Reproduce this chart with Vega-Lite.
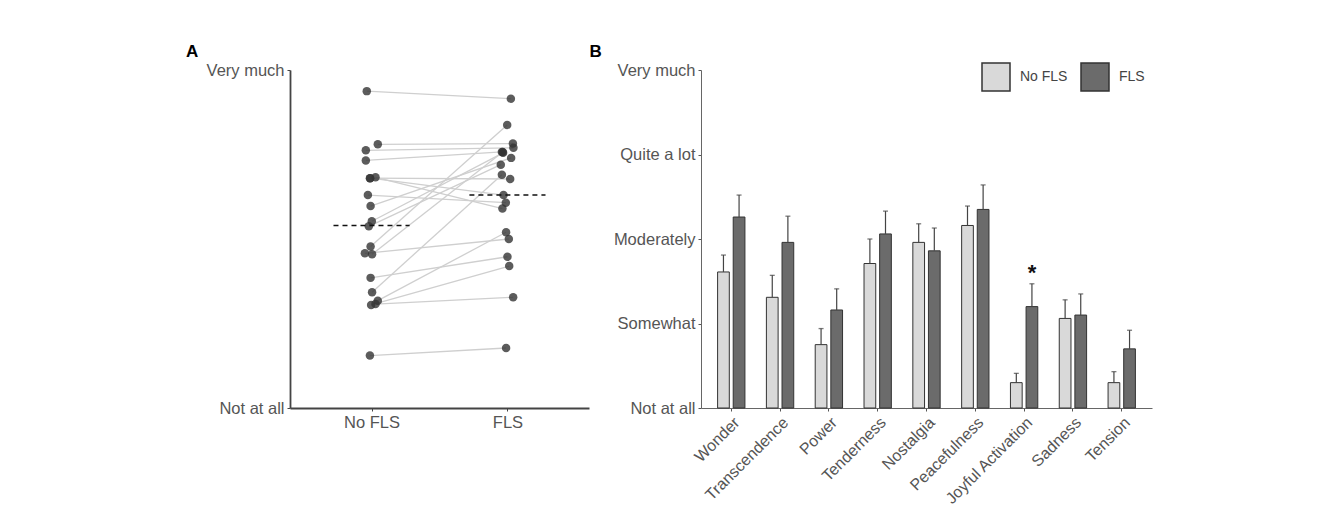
{
  "$schema": "https://vega.github.io/schema/vega-lite/v6.json",
  "padding": {"left": 186, "top": 43, "right": 5, "bottom": 5},
  "background": "white",
  "config": {
    "view": {"stroke": null},
    "font": "Liberation Sans",
    "axis": {"grid": false, "labelColor": "#555", "labelFontSize": 16.5, "tickColor": "#555", "domainColor": "#555", "title": null, "tickSize": 3, "labelPadding": 3}
  },
  "datasets": {
    "pairs": [
      {"id": 1, "cond": "No FLS", "x": 0.965, "y": 4.75}, {"id": 1, "cond": "FLS", "x": 2.025, "y": 4.66},
      {"id": 2, "cond": "No FLS", "x": 1.046, "y": 4.12}, {"id": 2, "cond": "FLS", "x": 2.04, "y": 4.13},
      {"id": 3, "cond": "No FLS", "x": 0.958, "y": 4.05}, {"id": 3, "cond": "FLS", "x": 2.044, "y": 4.08},
      {"id": 4, "cond": "No FLS", "x": 0.958, "y": 3.93}, {"id": 4, "cond": "FLS", "x": 1.959, "y": 4.03},
      {"id": 5, "cond": "No FLS", "x": 0.988, "y": 3.72}, {"id": 5, "cond": "FLS", "x": 2.02, "y": 3.71},
      {"id": 6, "cond": "No FLS", "x": 1.029, "y": 3.73}, {"id": 6, "cond": "FLS", "x": 1.963, "y": 3.36},
      {"id": 7, "cond": "No FLS", "x": 0.99, "y": 3.72}, {"id": 7, "cond": "FLS", "x": 1.971, "y": 3.52},
      {"id": 8, "cond": "No FLS", "x": 0.973, "y": 3.52}, {"id": 8, "cond": "FLS", "x": 1.988, "y": 3.43},
      {"id": 9, "cond": "No FLS", "x": 0.993, "y": 3.39}, {"id": 9, "cond": "FLS", "x": 2.027, "y": 3.96},
      {"id": 10, "cond": "No FLS", "x": 1.002, "y": 3.21}, {"id": 10, "cond": "FLS", "x": 1.968, "y": 4.02},
      {"id": 11, "cond": "No FLS", "x": 0.98, "y": 3.15}, {"id": 11, "cond": "FLS", "x": 1.951, "y": 3.88},
      {"id": 12, "cond": "No FLS", "x": 0.993, "y": 2.91}, {"id": 12, "cond": "FLS", "x": 1.998, "y": 4.35},
      {"id": 13, "cond": "No FLS", "x": 0.951, "y": 2.83}, {"id": 13, "cond": "FLS", "x": 2.01, "y": 3.0},
      {"id": 14, "cond": "No FLS", "x": 1.004, "y": 2.82}, {"id": 14, "cond": "FLS", "x": 1.965, "y": 4.03},
      {"id": 15, "cond": "No FLS", "x": 0.993, "y": 2.54}, {"id": 15, "cond": "FLS", "x": 2.0, "y": 2.79},
      {"id": 16, "cond": "No FLS", "x": 1.004, "y": 2.37}, {"id": 16, "cond": "FLS", "x": 1.959, "y": 3.76},
      {"id": 17, "cond": "No FLS", "x": 1.046, "y": 2.27}, {"id": 17, "cond": "FLS", "x": 1.99, "y": 3.08},
      {"id": 18, "cond": "No FLS", "x": 0.997, "y": 2.22}, {"id": 18, "cond": "FLS", "x": 2.013, "y": 2.68},
      {"id": 19, "cond": "No FLS", "x": 1.029, "y": 2.23}, {"id": 19, "cond": "FLS", "x": 2.042, "y": 2.31},
      {"id": 20, "cond": "No FLS", "x": 0.988, "y": 1.62}, {"id": 20, "cond": "FLS", "x": 1.99, "y": 1.71}
    ],
    "means": [
      {"cond": "No FLS", "x": 0.72, "x2": 1.28, "y": 3.16},
      {"cond": "FLS", "x": 1.72, "x2": 2.28, "y": 3.52}
    ],
    "bars": [
      {"emotion": "Wonder", "group": "No FLS", "mean": 2.61, "upper": 2.81},
      {"emotion": "Wonder", "group": "FLS", "mean": 3.26, "upper": 3.52},
      {"emotion": "Transcendence", "group": "No FLS", "mean": 2.31, "upper": 2.57},
      {"emotion": "Transcendence", "group": "FLS", "mean": 2.96, "upper": 3.27},
      {"emotion": "Power", "group": "No FLS", "mean": 1.75, "upper": 1.94},
      {"emotion": "Power", "group": "FLS", "mean": 2.16, "upper": 2.41},
      {"emotion": "Tenderness", "group": "No FLS", "mean": 2.71, "upper": 3.0},
      {"emotion": "Tenderness", "group": "FLS", "mean": 3.06, "upper": 3.33},
      {"emotion": "Nostalgia", "group": "No FLS", "mean": 2.96, "upper": 3.18},
      {"emotion": "Nostalgia", "group": "FLS", "mean": 2.86, "upper": 3.13},
      {"emotion": "Peacefulness", "group": "No FLS", "mean": 3.16, "upper": 3.39},
      {"emotion": "Peacefulness", "group": "FLS", "mean": 3.35, "upper": 3.64},
      {"emotion": "Joyful Activation", "group": "No FLS", "mean": 1.3, "upper": 1.41},
      {"emotion": "Joyful Activation", "group": "FLS", "mean": 2.2, "upper": 2.47},
      {"emotion": "Sadness", "group": "No FLS", "mean": 2.06, "upper": 2.28},
      {"emotion": "Sadness", "group": "FLS", "mean": 2.1, "upper": 2.35},
      {"emotion": "Tension", "group": "No FLS", "mean": 1.3, "upper": 1.43},
      {"emotion": "Tension", "group": "FLS", "mean": 1.7, "upper": 1.92}
    ],
    "stars": [
      {"emotion": "Joyful Activation", "group": "FLS", "y": 2.52, "label": "*"}
    ]
  },
  "spacing": 0,
  "hconcat": [
    {
      "width": 299,
      "height": 338,
      "title": {"text": "A", "anchor": "start", "frame": "bounds", "fontSize": 17, "fontWeight": "bold", "color": "black", "dx": -20, "offset": 1},
      "layer": [
        {
          "data": {"name": "pairs"},
          "mark": {"type": "line", "color": "#cfcfcf", "strokeWidth": 1.3},
          "encoding": {
            "x": {"field": "x", "type": "quantitative", "scale": {"domain": [0.4, 2.6], "nice": false, "zero": false},
              "axis": {"values": [1, 2], "labelExpr": "datum.value == 1 ? 'No FLS' : 'FLS'", "domainColor": "#444", "domainWidth": 1.8, "tickColor": "#444"}},
            "y": {"field": "y", "type": "quantitative", "scale": {"domain": [1, 5], "nice": false, "zero": false},
              "axis": {"values": [1, 5], "labelExpr": "datum.value == 1 ? 'Not at all' : 'Very much'", "domainColor": "#444", "domainWidth": 1.8, "tickColor": "#444"}},
            "detail": {"field": "id", "type": "nominal"}
          }
        },
        {
          "data": {"name": "pairs"},
          "mark": {"type": "circle", "size": 72, "color": "#333", "opacity": 0.8},
          "encoding": {
            "x": {"field": "x", "type": "quantitative"},
            "y": {"field": "y", "type": "quantitative"}
          }
        },
        {
          "data": {"name": "means"},
          "mark": {"type": "rule", "color": "#111", "strokeWidth": 1.5, "strokeDash": [5, 4]},
          "encoding": {
            "x": {"field": "x", "type": "quantitative"},
            "x2": {"field": "x2"},
            "y": {"field": "y", "type": "quantitative"}
          }
        }
      ]
    },
    {
      "width": 451,
      "height": 338,
      "title": {"text": "B", "anchor": "start", "frame": "bounds", "fontSize": 17, "fontWeight": "bold", "color": "black", "dx": -24, "offset": 1},
      "data": {"name": "bars"},
      "layer": [
        {
          "mark": {"type": "bar", "stroke": "#333", "strokeWidth": 1},
          "encoding": {
            "x": {"field": "emotion", "type": "nominal", "sort": ["Wonder", "Transcendence", "Power", "Tenderness", "Nostalgia", "Peacefulness", "Joyful Activation", "Sadness", "Tension"],
              "scale": {"paddingInner": 0.44, "paddingOuter": 0.34},
              "axis": {"labelAngle": -45, "labelAlign": "right", "labelBaseline": "top", "labelFontSize": 16, "domainColor": "#666"}},
            "xOffset": {"field": "group", "type": "nominal", "sort": ["No FLS", "FLS"], "scale": {"paddingInner": 0.25, "paddingOuter": 0}},
            "y": {"field": "mean", "type": "quantitative", "scale": {"domain": [1, 5], "nice": false, "zero": false},
              "axis": {"values": [1, 2, 3, 4, 5], "labelExpr": "['', 'Not at all', 'Somewhat', 'Moderately', 'Quite a lot', 'Very much'][datum.value]", "domainColor": "#666"}},
            "y2": {"datum": 1},
            "color": {"field": "group", "type": "nominal", "scale": {"domain": ["No FLS", "FLS"], "range": ["#d9d9d9", "#6b6b6b"]},
              "legend": {"title": null, "orient": "none", "legendX": 691, "legendY": -8, "direction": "horizontal", "symbolType": "square", "symbolSize": 784, "symbolStrokeColor": "#333", "symbolStrokeWidth": 1.5, "symbolOpacity": 1, "labelFontSize": 14, "labelColor": "#444", "labelOffset": 9, "columnPadding": 10}}
          }
        },
        {
          "mark": {"type": "rule", "color": "#444", "strokeWidth": 1.2},
          "encoding": {
            "x": {"field": "emotion", "type": "nominal", "sort": ["Wonder", "Transcendence", "Power", "Tenderness", "Nostalgia", "Peacefulness", "Joyful Activation", "Sadness", "Tension"]},
            "xOffset": {"field": "group", "type": "nominal", "sort": ["No FLS", "FLS"]},
            "y": {"field": "mean", "type": "quantitative"},
            "y2": {"field": "upper"}
          }
        },
        {
          "mark": {"type": "tick", "color": "#444", "size": 5, "thickness": 1.3, "orient": "horizontal"},
          "encoding": {
            "x": {"field": "emotion", "type": "nominal", "sort": ["Wonder", "Transcendence", "Power", "Tenderness", "Nostalgia", "Peacefulness", "Joyful Activation", "Sadness", "Tension"]},
            "xOffset": {"field": "group", "type": "nominal", "sort": ["No FLS", "FLS"]},
            "y": {"field": "upper", "type": "quantitative"}
          }
        },
        {
          "data": {"name": "stars"},
          "mark": {"type": "text", "fontSize": 22, "fontWeight": "bold", "color": "#111", "baseline": "alphabetic"},
          "encoding": {
            "x": {"field": "emotion", "type": "nominal", "sort": ["Wonder", "Transcendence", "Power", "Tenderness", "Nostalgia", "Peacefulness", "Joyful Activation", "Sadness", "Tension"]},
            "xOffset": {"field": "group", "type": "nominal", "sort": ["No FLS", "FLS"]},
            "y": {"field": "y", "type": "quantitative"},
            "text": {"field": "label"}
          }
        }
      ]
    }
  ]
}
